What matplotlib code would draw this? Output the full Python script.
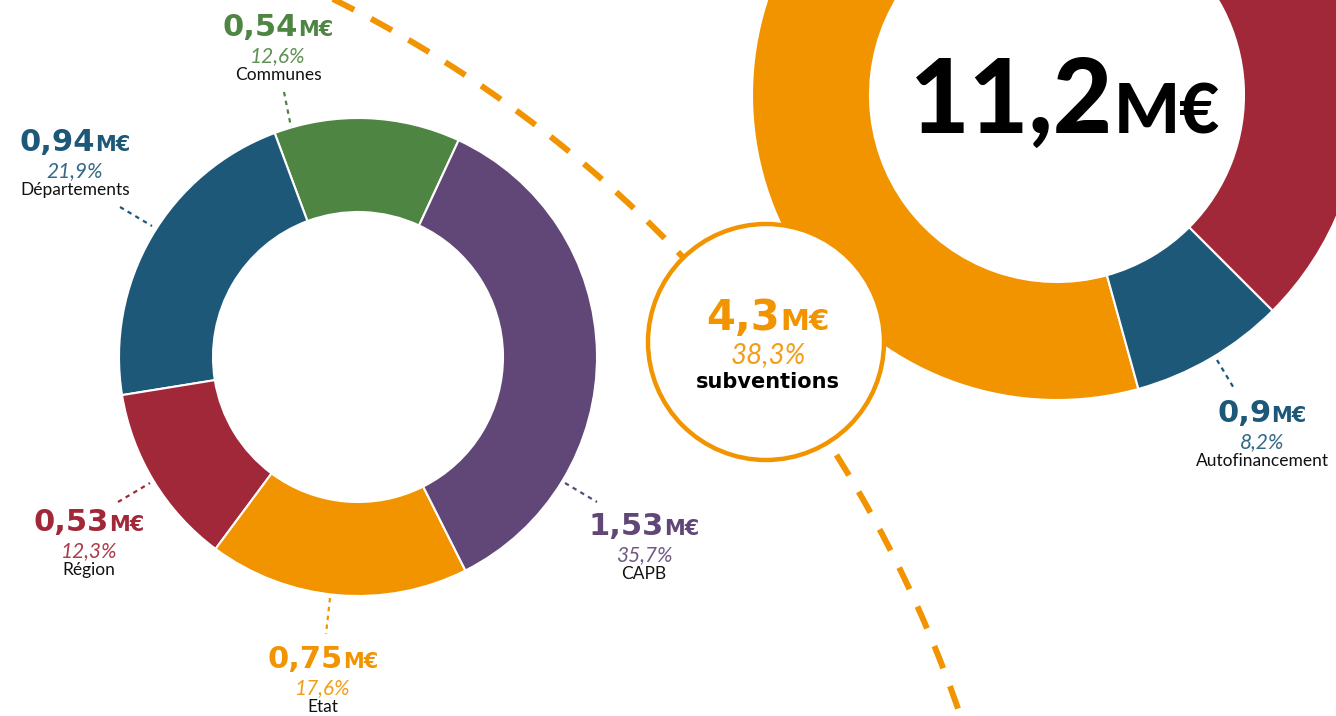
import numpy as np
import matplotlib.pyplot as plt
from matplotlib.patches import Circle

W, H = 1336, 716

# left donut : subventions split
sub_labels = ["Communes", "Départements", "Région", "Etat", "CAPB"]
sub_amounts = ["0,54", "0,94", "0,53", "0,75", "1,53"]
sub_pct = [12.6, 21.9, 12.3, 17.6, 35.7]
sub_colors = ["#4e8543", "#1e5879", "#a12838", "#f29400", "#614777"]

# right donut : total budget
tot_labels = ["subventions", "Autofinancement", "autre"]
tot_amounts = ["4,3", "0,9", "6,0"]
tot_pct = [38.3, 8.2, 53.5]
tot_colors = ["#f29400", "#1e5879", "#a12838"]
total = "11,2"

NUM_FONT = "DejaVu Sans"
TXT_FONT = "Lato"

fig = plt.figure(figsize=(W / 100, H / 100), dpi=100)
ax = fig.add_axes([0, 0, 1, 1])


def Y(y):
    # image coords (top-down) -> data coords
    return H - y


# big donut (partly off the canvas)
ax.pie(tot_pct, colors=tot_colors, startangle=147.6, counterclock=True,
       radius=305, center=(1057, Y(95)),
       wedgeprops=dict(width=118, edgecolor="white", linewidth=1.5))

# left donut
ax.pie(sub_pct, colors=sub_colors, startangle=65.1, counterclock=True,
       radius=239, center=(358, Y(357)),
       wedgeprops=dict(width=94, edgecolor="white", linewidth=1.5))

# dashed orange arc linking both
t = np.radians(np.linspace(72, 14, 400))
ax.plot(-222 + 1249 * np.cos(t), Y(1118) + 1249 * np.sin(t), color="#f29400",
        lw=4.3, linestyle=(0, (4.0, 3.2)), zorder=3)

# circle with subventions total
ax.add_patch(Circle((766, Y(342)), 118, facecolor="white", edgecolor="#f29400",
                    lw=3.2, zorder=5))

ax.set_xlim(0, W)
ax.set_ylim(0, H)
ax.set_aspect("auto")
ax.axis("off")

r = fig.canvas.get_renderer()


def amount(cx, y, num, color, s1, s2, font=NUM_FONT, weight="bold", z=6):
    t1 = ax.text(0, Y(y), num, fontsize=s1, fontweight=weight, family=font,
                 color=color, ha="left", va="baseline", zorder=z)
    t2 = ax.text(0, Y(y), "M€", fontsize=s2, fontweight=weight, family=font,
                 color=color, ha="left", va="baseline", zorder=z)
    w1 = t1.get_window_extent(r).width
    w2 = t2.get_window_extent(r).width
    x0 = cx - (w1 + w2) / 2
    t1.set_x(x0)
    t2.set_x(x0 + w1)


def pct_text(cx, y, pct, color, size):
    ax.text(cx, Y(y), ("%.1f%%" % pct).replace(".", ","), fontsize=size,
            style="italic", fontweight="normal", family=TXT_FONT, color=color,
            ha="center", va="baseline", zorder=6, alpha=0.9)


def label_block(cx, y, num, pct, name, color):
    amount(cx, y, num, color, 22, 15)
    pct_text(cx, y + 26, pct, color, 15)
    ax.text(cx, Y(y + 44), name, fontsize=12.5, family=TXT_FONT, color="#111111",
            ha="center", va="baseline", zorder=6)


# label positions / leader lines (image coords)
sub_pos = [(278, 36), (75, 151), (89, 531), (323, 668), (644, 535)]
sub_lead = [((284, 92), (291, 127)), ((120, 207), (152, 226)),
            ((118, 502), (150, 483)), ((330, 598), (326, 634)),
            ((565, 483), (597, 502))]

for i in range(len(sub_labels)):
    cx, y = sub_pos[i]
    label_block(cx, y, sub_amounts[i], sub_pct[i], sub_labels[i], sub_colors[i])
    (xa, ya), (xb, yb) = sub_lead[i]
    ax.plot([xa, xb], [Y(ya), Y(yb)], color=sub_colors[i], lw=1.6,
            linestyle=(0, (2, 2)), zorder=4)

# autofinancement label
label_block(1262, 422, tot_amounts[1], tot_pct[1], tot_labels[1], tot_colors[1])
ax.plot([1217, 1235], [Y(360), Y(390)], color=tot_colors[1], lw=1.6,
        linestyle=(0, (2, 2)), zorder=4)

# subventions circle text
amount(768, 330, tot_amounts[0], tot_colors[0], 30, 21)
pct_text(768, 363, tot_pct[0], tot_colors[0], 20)
ax.text(768, Y(388), tot_labels[0], fontsize=15, fontweight="bold",
        family=NUM_FONT, color="black", ha="center", va="baseline", zorder=6)

# grand total
amount(1065, 133, total, "black", 74, 50, font=TXT_FONT, weight="black")

fig.savefig("out.png", dpi=100)
